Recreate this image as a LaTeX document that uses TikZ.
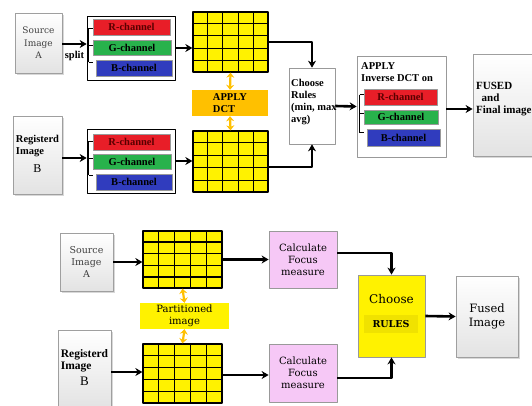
\documentclass[tikz,border=0pt]{standalone}
\usepackage{fontspec}
\setmainfont{Liberation Serif}
\newfontfamily\wideserif{DejaVu Serif}
\usetikzlibrary{arrows.meta,calc,shadows}

\definecolor{chanred}{RGB}{232,30,40}
\definecolor{changreen}{RGB}{40,178,76}
\definecolor{chanblue}{RGB}{48,60,190}
\definecolor{dctorange}{RGB}{255,192,0}
\definecolor{focuspink}{RGB}{246,200,246}
\definecolor{rulesband}{RGB}{240,226,0}

% 5x5 cells inside a grid node
\newcommand\cellgrid[1]{%
  \foreach \k in {1,...,4}{%
    \draw[line width=1.1pt] ($(#1.north west)!\k/5!(#1.north east)$) -- ($(#1.south west)!\k/5!(#1.south east)$);
    \draw[line width=1.1pt] ($(#1.north west)!\k/5!(#1.south west)$) -- ($(#1.north east)!\k/5!(#1.south east)$);
  }}
% small bracket in front of the channel bars
\newcommand\chanbrace[4]{%
  \draw[line width=0.6pt] ([xshift=#2pt,yshift=#3pt]#1.west) -- ([xshift=#2pt,yshift=#4pt]#1.west);
  \foreach \t in {#3,#4}
    \draw[line width=0.6pt] ([xshift=#2pt,yshift=\t pt]#1.west) -- ++(4,0);
  \draw[line width=0.6pt] ([xshift=#2pt,yshift={(#3+#4)/2 pt}]#1.west) -- ++(4,0);}

\begin{document}
\begin{tikzpicture}[x=1pt,y=-1pt,line join=round,
  boldtxt/.style={font=\fontsize{10.5}{12}\selectfont\bfseries,inner sep=0pt},
  imgbox/.style={draw=gray!75,line width=0.8pt,top color=white,bottom color=gray!22,
    drop shadow={shadow xshift=1.5pt,shadow yshift=-1.5pt,fill=gray!60},inner sep=1pt},
  chanbox/.style={draw,line width=0.7pt,fill=white,inner sep=0pt},
  chanbar/.style={minimum height=16pt,inner sep=0pt,boldtxt,draw=black!40,line width=0.3pt},
  cellbox/.style={draw,line width=1.3pt,fill=yellow,inner sep=0pt},
  flow/.style={line width=2.6pt,-{Stealth[length=7pt,width=8pt]}},
  tip/.style={draw=dctorange,line width=2.2pt,{Stealth[length=5pt,width=8pt]}-{Stealth[length=5pt,width=8pt]}},
  calcbox/.style={draw=gray!80,line width=0.8pt,fill=focuspink,minimum width=68pt,inner sep=0pt,
    font=\wideserif\fontsize{10}{12}\selectfont,align=center}]

  \useasboundingbox (0,0) rectangle (532,405);

  % ---------------- upper scheme: DCT ----------------
  \node[imgbox,minimum width=47pt,minimum height=60pt,align=center,
        font=\wideserif\fontsize{9}{12.5}\selectfont,text=black!75] (srcA) at (38.5,43) {Source\\Image\\A};
  \node[imgbox,minimum width=49pt,minimum height=78pt,boldtxt] (regB) at (37.5,155)
    {\begin{tabular}{@{}l@{}}Registerd\\Image\\[6pt]\multicolumn{1}{@{}c@{}}{\fontsize{12}{14}\selectfont\mdseries B}\end{tabular}};

  % channel boxes
  \node[chanbox,minimum width=88pt,minimum height=64pt] (chanA) at (131,48) {};
  \node[chanbar,fill=chanred,text=red!35!black,minimum width=77pt] (redA) at (131.5,27) {R-channel};
  \node[chanbar,fill=changreen,minimum width=78pt,minimum height=15pt] (greenA) at (132,47.5) {G-channel};
  \node[chanbar,fill=chanblue,minimum width=76pt] (blueA) at (134,68) {B-channel};
  \chanbrace{chanA}{2}{20}{-14}
  \node[chanbox,minimum width=88pt,minimum height=64pt] (chanB) at (131,161) {};
  \node[chanbar,fill=chanred,text=red!35!black,minimum width=77pt] (redB) at (131.5,142) {R-channel};
  \node[chanbar,fill=changreen,minimum width=78pt,minimum height=15pt] (greenB) at (132,162) {G-channel};
  \node[chanbar,fill=chanblue,minimum width=76pt] (blueB) at (134,182) {B-channel};
  \chanbrace{chanB}{2}{20}{-14}

  % coefficient grids
  \node[cellbox,minimum width=75pt,minimum height=60pt] (gridA) at (230.5,42) {};
  \cellgrid{gridA}
  \node[cellbox,minimum width=75pt,minimum height=61pt] (gridB) at (230.5,161.5) {};
  \cellgrid{gridB}
  \node[fill=dctorange,minimum width=76pt,minimum height=26pt,boldtxt,align=left] (dct) at (230,103) {APPLY\\DCT};

  \node[draw=gray!80,line width=0.7pt,fill=white,minimum width=46pt,minimum height=76pt] (rules) at (312,106) {};
  \node[boldtxt,anchor=west,align=left] (rulestxt) at (291,102) {Choose\\Rules\\(min, max\\avg)};

  % inverse transform
  \node[draw=gray!80,line width=0.7pt,fill=white,minimum width=89pt,minimum height=101pt] (inv) at (401.5,106.5) {};
  \node[boldtxt,anchor=north west,align=left] (invtxt) at (361,62) {APPLY\\Inverse DCT on};
  \node[chanbar,fill=chanred,text=red!35!black,minimum width=73pt] (redC) at (400.5,97) {R-channel};
  \node[chanbar,fill=changreen,minimum width=74pt,minimum height=14pt] (greenC) at (401,117) {G-channel};
  \node[chanbar,fill=chanblue,minimum width=73pt,minimum height=17pt] (blueC) at (403.5,137.5) {B-channel};
  \chanbrace{inv}{3}{12}{-26}

  \node[imgbox,minimum width=82pt,minimum height=102pt] (fused) at (514,105) {};
  \node[boldtxt,font=\fontsize{11}{12}\selectfont\bfseries,anchor=west,align=left] (fusedtxt) at (476,99) {FUSED\\\ \ and\\Final image};

  % connectors
  \draw[flow] (srcA.east |- 0,44) -- (chanA.west |- 0,44) node[boldtxt,midway,below=6pt] {split};
  \draw[flow] (regB.east |- 0,158) -- (chanB.west |- 0,158);
  \draw[flow] (chanA) -- (gridA.west |- chanA);
  \draw[flow] (chanB) -- (gridB.west |- chanB);
  \draw[tip] (gridA.south) -- (dct.north);
  \draw[tip] (dct.south) -- (gridB.north);
  \draw[flow] (gridA) -- (gridA.east) -| (rules.north);
  \draw[flow] ([yshift=-5.5pt]gridB.east) -| (rules.south);
  \draw[flow] (rules.east) -- (inv.west);
  \draw[flow] ([yshift=-2.5pt]inv.east) -- ([yshift=-2.5pt]inv.east -| fused.west);

  % ---------------- lower scheme: focus measure ----------------
  \node[imgbox,minimum width=53pt,minimum height=58pt,align=center,
        font=\wideserif\fontsize{9.5}{12}\selectfont,text=black!75] (srcA2) at (86.5,262) {Source\\Image\\A};
  \node[imgbox,minimum width=53pt,minimum height=78pt,font=\fontsize{11.5}{12}\selectfont\bfseries] (regB2) at (84.5,369)
    {\begin{tabular}{@{}l@{}}Registerd\\Image\\[4pt]\multicolumn{1}{@{}c@{}}{\fontsize{13}{14}\selectfont\mdseries B}\end{tabular}};

  \node[cellbox,minimum width=79pt,minimum height=57pt] (gridC) at (182.5,259.5) {};
  \cellgrid{gridC}
  \node[cellbox,minimum width=79pt,minimum height=59pt] (gridD) at (182.5,373.5) {};
  \cellgrid{gridD}
  \node[fill=yellow,minimum width=89pt,minimum height=26pt,align=center,
        font=\wideserif\fontsize{10}{12}\selectfont,inner sep=0pt] (part) at (184.5,316) {Partitioned\\image};

  \node[calcbox,minimum height=57pt] (focusA) at (303,259.5) {Calculate\\Focus\\measure};
  \node[calcbox,minimum height=58pt] (focusB) at (303,373) {Calculate\\Focus\\measure};

  \node[draw=gray!80,line width=0.8pt,fill=yellow,minimum width=67pt,minimum height=82pt] (choose) at (391.5,316) {};
  \node[font=\wideserif\fontsize{12}{14}\selectfont,inner sep=0pt] (choosetxt) at (391.5,299) {Choose};
  \node[fill=rulesband,minimum width=54pt,minimum height=18pt,inner sep=0pt,
        font=\wideserif\fontsize{9.5}{12}\selectfont\bfseries] (rulestag) at (391,324) {RULES};

  \node[imgbox,minimum width=62pt,minimum height=81pt,align=center,
        font=\wideserif\fontsize{11.5}{14}\selectfont] (fusedimg) at (487,316.5) {Fused\\Image};

  % connectors
  \draw[flow] (srcA2.east |- 0,262) -- (gridC.west |- 0,262);
  \draw[flow] (regB2.east |- 0,372) -- (gridD.west |- 0,372);
  \draw[flow] (gridC) -- (gridC.east) -- (focusA.west);
  \draw[flow] ([yshift=-1.5pt]gridD.east) -- ([yshift=-1.5pt]gridD.east -| focusB.west);
  \draw[tip] (gridC.south) -- (part.north);
  \draw[tip] (part.south) -- (gridD.north);
  \draw[flow] ([yshift=6.5pt]focusA.east) -| (choose.north);
  \draw[flow] ([yshift=-5pt]focusB.east) -| (choose.south);
  \draw[flow] (choose.east) -- (fusedimg.west);
\end{tikzpicture}
\end{document}
